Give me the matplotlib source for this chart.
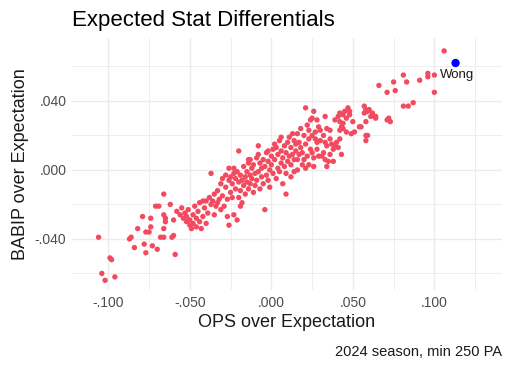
import numpy as np
import matplotlib
matplotlib.use('Agg')
import matplotlib.pyplot as plt
from matplotlib.ticker import FuncFormatter, MultipleLocator

plt.rcParams['font.family'] = ['Liberation Sans', 'DejaVu Sans']

# ops / babip over expectation, in thousandths
ops_over = np.array([
    # far left
    -106, -99, -98, -104, -102, -96, -87, -86, -84, -82, -79, -78, -77, -77, -75,
    -74, -74, -73, -70, -71, -69, -68, -66, -66, -66, -65, -65, -66, -62, -60,
    -61, -60, -59,
    # -60 .. -30
    -58, -56, -55, -54, -53, -52, -52, -51, -50, -50, -49, -48, -48, -47, -46,
    -46, -45, -44, -44, -43, -42, -42, -41, -40, -40, -39, -38, -37, -37, -36,
    -35, -35, -34, -33, -33, -32, -31, -31, -30, -30,
    # -30 .. 0
    -29, -28, -28, -27, -27, -26, -26, -26, -25, -25, -24, -24, -23, -23, -23,
    -22, -22, -21, -21, -20, -20, -20, -19, -19, -19, -18, -18, -17, -17, -16,
    -16, -15, -15, -14, -14, -14, -13, -13, -13, -12, -12, -11, -11, -10, -10,
    -9, -9, -8, -8, -8, -7, -7, -6, -6, -5, -5, -4, -4, -3, -3,
    -2, -2, -2, -1, -1, 0, 0,
    # 0 .. 30
    1, 1, 2, 2, 3, 3, 4, 4, 5, 5, 6, 6, 6, 7, 7,
    8, 8, 9, 9, 9, 10, 10, 11, 11, 12, 12, 12, 13, 13, 14,
    14, 14, 15, 15, 16, 16, 16, 17, 17, 18, 18, 19, 19, 20, 20,
    21, 21, 21, 22, 22, 23, 23, 23, 24, 24, 25, 25, 25, 26, 26,
    26, 27, 27, 28, 28, 28, 29, 29,
    # 30 .. 60
    30, 30, 31, 32, 32, 33, 33, 33, 34, 34, 34, 35, 36, 36, 36,
    37, 38, 38, 39, 39, 40, 41, 41, 42, 42, 42, 42, 43, 43, 44,
    44, 44, 45, 46, 46, 47, 48, 48, 49, 50, 51, 54, 55, 57, 57,
    58, 58, 58, 58, 59, 60, 59,
    # right tail
    61, 62, 64, 64, 66, 71, 71, 72, 73, 75, 76, 81, 83, 81, 84,
    87, 91, 96, 96, 100, 100, 106,
]) / 1000

babip_over = np.array([
    -39, -51, -52, -60, -64, -62, -40, -39, -45, -34, -27, -43, -48, -36, -36,
    -28, -33, -44, -46, -21, -21, -39, -39, -34, -26, -28, -30, -14, -20, -29,
    -39, -38, -49,
    -24, -26, -22, -28, -25, -30, -27, -23, -32, -29, -34, -26, -31, -21, -33,
    -28, -24, -30, -19, -34, -18, -27, -22, -18, -31, -25, -16, -20, -2, -18,
    -26, -14, -21, -19, -12, -17, -23, -8, -15, -5,
    -21, -3, -10, -17, -27, 1, -6, -32, -13, -4, -16, -8, 1, -2, -26,
    -11, -5, -29, -1, 11, -7, -16, -3, -12, -21, -19, -6, 2, -9, -4,
    -14, -1, -7, 6, 4, -11, 6, -3, -8, 1, -5, -13, 3, -2, -9,
    7, -6, 14, 9, -1, 4, -11, -4, 1, 6, -8, -23, 2, 10, -3,
    11, 5, -6, 0, -10, 8, 3,
    -2, 12, 15, 6, -5, 13, 9, 1, 17, -1, 19, 11, 4, 7, -8,
    14, 2, 10, -2, -14, 16, 5, 8, 19, 13, 3, -4, 21, 9, 17,
    6, -1, 15, 11, 6, 21, 0, 16, 9, 13, 24, 3, 10, 20, 6,
    1, 36, 15, 8, 26, 3, 23, 18, 12, 29, 10, 20, 30, 7, 34,
    2, 18, 22, 12, 29, 16, 8, 25,
    17, 23, 8, 10, 20, 31, 16, 6, 2, 14, 24, 5, 18, 23, 9,
    15, 12, 5, 29, 14, 16, 31, 13, 33, 28, 18, 23, 25, 9, 32,
    27, 24, 34, 30, 22, 36, 34, 32, 21, 28, 22, 25, 25, 37, 33,
    35, 20, 17, 28, 34, 35, 20,
    31, 33, 30, 31, 49, 45, 29, 30, 28, 51, 46, 55, 51, 37, 37,
    39, 52, 56, 54, 55, 45, 69,
]) / 1000

wong_ops = 0.113
wong_babip = 0.062

fig = plt.figure(figsize=(5.12, 3.67), dpi=100)
ax = fig.add_axes([0.1406, 0.2098, 0.9805 - 0.1406, 0.8965 - 0.2098])

ax.scatter(ops_over, babip_over, s=15, color='#F24A5E', edgecolors='none', zorder=3)
ax.scatter([wong_ops], [wong_babip], s=36, color='#0000FF', edgecolors='none', zorder=4)
ax.annotate('Wong', (wong_ops, wong_babip), xytext=(1, -4), textcoords='offset points',
            ha='center', va='top', fontsize=9.5, color='#1a1a1a')

ax.set_xlim(-0.1223, 0.1415)
ax.set_ylim(-0.0696, 0.0765)

ax.xaxis.set_major_locator(MultipleLocator(0.05))
ax.xaxis.set_minor_locator(MultipleLocator(0.025))
ax.yaxis.set_major_locator(MultipleLocator(0.04))
ax.yaxis.set_minor_locator(MultipleLocator(0.02))


def fmt(v, pos):
    s = f'{v:.3f}'
    if s == '-0.000':
        s = '0.000'
    return s.replace('0.', '.', 1)


ax.xaxis.set_major_formatter(FuncFormatter(fmt))
ax.yaxis.set_major_formatter(FuncFormatter(fmt))

ax.grid(which='major', color='#EBEBEB', linewidth=1.0)
ax.grid(which='minor', color='#EBEBEB', linewidth=0.6)
ax.set_axisbelow(True)
for sp in ax.spines.values():
    sp.set_visible(False)
ax.tick_params(which='both', length=0, labelsize=10, labelcolor='#4D4D4D', pad=4)

ax.set_xlabel('OPS over Expectation', fontsize=13, color='#1a1a1a', labelpad=3)
ax.set_ylabel('BABIP over Expectation', fontsize=13, color='#1a1a1a', labelpad=4)
fig.text(0.1406, 0.945, 'Expected Stat Differentials', fontsize=16, color='#000000',
         ha='left', va='center')
fig.text(0.981, 0.042, '2024 season, min 250 PA', fontsize=10.5, color='#1a1a1a',
         ha='right', va='center')

plt.savefig('out.png', dpi=100)
plt.close()
